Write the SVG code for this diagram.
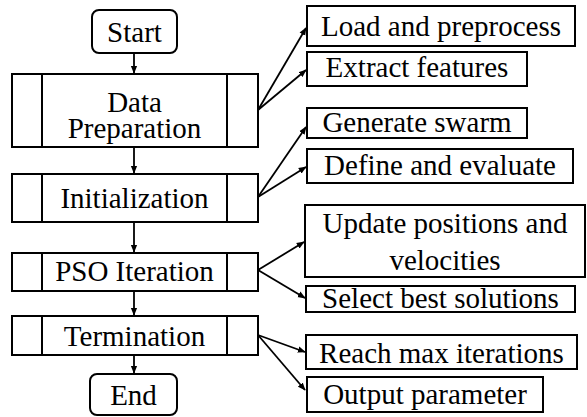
<svg xmlns="http://www.w3.org/2000/svg" width="587" height="417" viewBox="0 0 587 417" font-family="Liberation Serif, Times New Roman, serif">
<style>
.b{fill:#fff;stroke:#000;stroke-width:2}
.l{stroke:#000;stroke-width:2}
.t{font-size:29px;fill:#000;text-anchor:middle}
.c{stroke:#000;stroke-width:1.8;fill:none;marker-end:url(#ah)}
</style>
<defs>
<marker id="ah" viewBox="0 0 10 10" refX="9" refY="5" markerWidth="8" markerHeight="8" markerUnits="userSpaceOnUse" orient="auto">
<path d="M0,1 L10,5 L0,9 z" fill="#000"/>
</marker>
</defs>
<rect width="587" height="417" fill="#fff"/>
<g id="connectors">
<line class="c" x1="134" y1="53" x2="134" y2="73"/>
<line class="c" x1="134" y1="147" x2="134" y2="173"/>
<line class="c" x1="134" y1="222" x2="134" y2="252"/>
<line class="c" x1="134" y1="291" x2="134" y2="315"/>
<line class="c" x1="134" y1="355" x2="134" y2="373"/>
<line class="c" x1="258" y1="110" x2="306" y2="28"/>
<line class="c" x1="258" y1="110" x2="306" y2="70"/>
<line class="c" x1="258" y1="197" x2="306" y2="127"/>
<line class="c" x1="258" y1="197" x2="306" y2="167"/>
<line class="c" x1="258" y1="270" x2="304" y2="242"/>
<line class="c" x1="258" y1="270" x2="305" y2="298"/>
<line class="c" x1="258" y1="335" x2="305" y2="352"/>
<line class="c" x1="258" y1="335" x2="305" y2="390"/>
</g>
<g id="start">
<rect class="b" x="92" y="10" width="85" height="43" rx="7"/>
<text class="t" x="134.5" y="42">Start</text>
</g>
<g id="data-preparation">
<rect class="b" x="12" y="74" width="246" height="73"/>
<line class="l" x1="42" y1="74" x2="42" y2="147"/>
<line class="l" x1="227" y1="74" x2="227" y2="147"/>
<text class="t" x="134.5" y="112">Data</text>
<text class="t" x="134.5" y="138">Preparation</text>
</g>
<g id="initialization">
<rect class="b" x="12" y="174" width="246" height="48"/>
<line class="l" x1="42" y1="174" x2="42" y2="222"/>
<line class="l" x1="227" y1="174" x2="227" y2="222"/>
<text class="t" x="134.5" y="208">Initialization</text>
</g>
<g id="pso-iteration">
<rect class="b" x="12" y="253" width="246" height="38"/>
<line class="l" x1="42" y1="253" x2="42" y2="291"/>
<line class="l" x1="227" y1="253" x2="227" y2="291"/>
<text class="t" x="134.5" y="281">PSO Iteration</text>
</g>
<g id="termination">
<rect class="b" x="12" y="316" width="246" height="39"/>
<line class="l" x1="42" y1="316" x2="42" y2="355"/>
<line class="l" x1="227" y1="316" x2="227" y2="355"/>
<text class="t" x="134.5" y="346">Termination</text>
</g>
<g id="end">
<rect class="b" x="90" y="374" width="87" height="41" rx="7"/>
<text class="t" x="133.5" y="405">End</text>
</g>
<g id="load">
<rect class="b" x="307" y="6" width="268" height="40"/>
<text class="t" x="441" y="36">Load and preprocess</text>
</g>
<g id="extract">
<rect class="b" x="307" y="52" width="220" height="34"/>
<text class="t" x="417" y="77">Extract features</text>
</g>
<g id="generate">
<rect class="b" x="307" y="108" width="220" height="30"/>
<text class="t" x="417" y="132">Generate swarm</text>
</g>
<g id="define">
<rect class="b" x="307" y="149" width="266" height="34"/>
<text class="t" x="440" y="175">Define and evaluate</text>
</g>
<g id="update">
<rect class="b" x="305" y="205" width="280" height="72"/>
<text class="t" x="445" y="233">Update positions and</text>
<text class="t" x="445" y="270">velocities</text>
</g>
<g id="select">
<rect class="b" x="306" y="286" width="269" height="26"/>
<text class="t" x="440.5" y="308">Select best solutions</text>
</g>
<g id="reach">
<rect class="b" x="306" y="335" width="271" height="34"/>
<text class="t" x="441.5" y="363">Reach max iterations</text>
</g>
<g id="output">
<rect class="b" x="307" y="377" width="236" height="35"/>
<text class="t" x="425" y="404">Output parameter</text>
</g>
</svg>
